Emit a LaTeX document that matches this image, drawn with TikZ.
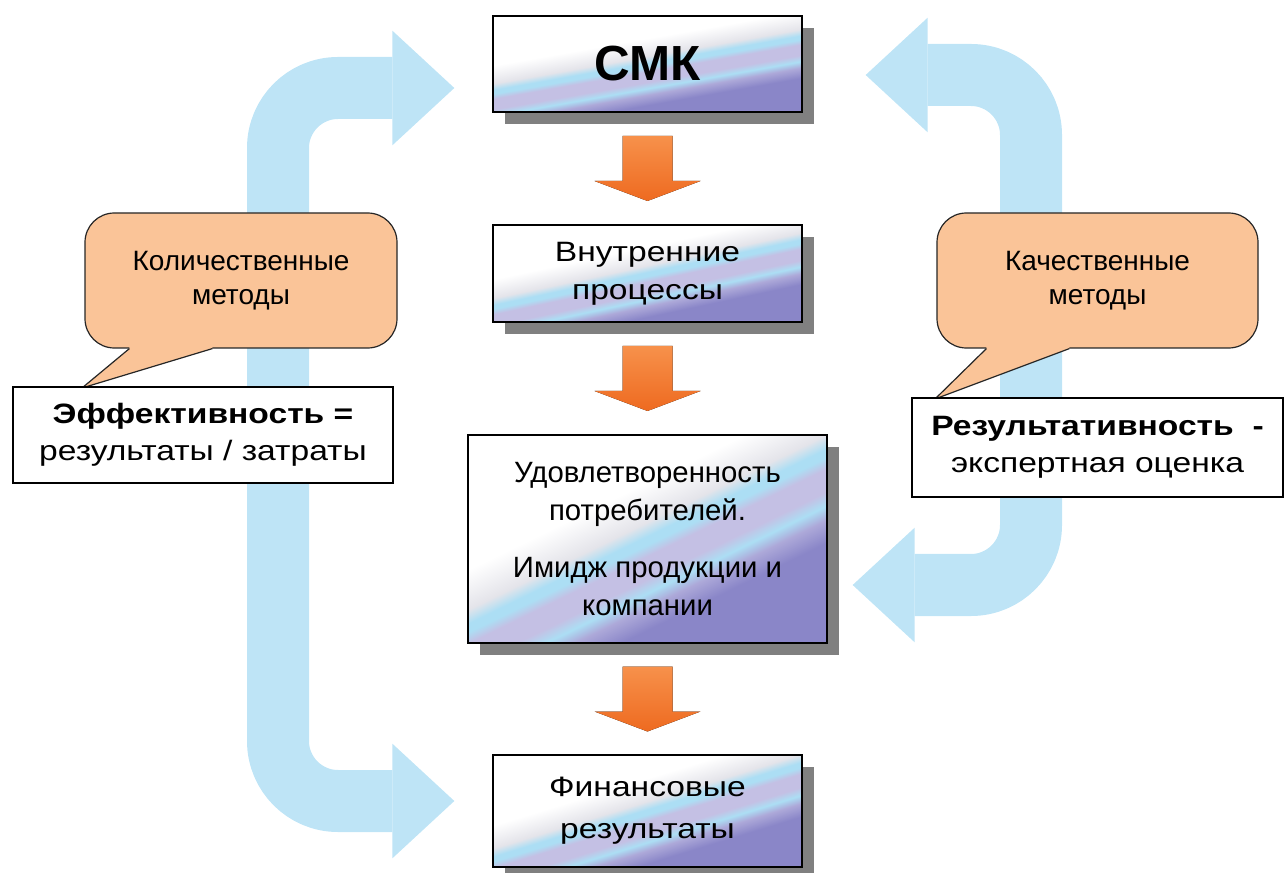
\documentclass[tikz,border=0pt]{standalone}
\usepackage{fontspec}
\setmainfont{Liberation Sans}
\newfontfamily\widefont{Liberation Sans}[FakeStretch=1.2]
\usetikzlibrary{arrows.meta,shadows,calc}
\definecolor{bandgray}{RGB}{228,228,234}
\definecolor{bandcyan}{RGB}{172,222,244}
\definecolor{bandlav}{RGB}{196,192,228}
\definecolor{bandpurple}{RGB}{138,134,200}
\definecolor{shadowgray}{RGB}{128,128,128}
\definecolor{loopblue}{RGB}{190,228,246}
\definecolor{calloutpeach}{RGB}{250,196,152}
\definecolor{flowlight}{RGB}{247,145,75}
\definecolor{flowdark}{RGB}{238,106,32}
\pgfdeclarehorizontalshading{bands}{100bp}{color(0bp)=(white); color(40bp)=(white); color(47bp)=(bandgray); color(49.5bp)=(bandcyan); color(51bp)=(bandcyan); color(53bp)=(bandlav); color(57bp)=(bandlav); color(59.5bp)=(bandcyan); color(62bp)=(bandlav!60!bandpurple); color(66bp)=(bandpurple); color(100bp)=(bandpurple)}

\begin{document}
\begin{tikzpicture}[x=0.75pt, y=-0.75pt,
    every text node part/.style={align=center},
    stepbox/.style={draw=black, line width=1pt, shading=bands, drop shadow={shadow xshift=9pt, shadow yshift=-9pt, fill=shadowgray, opacity=1}, minimum width=231.75pt, inner sep=0pt, font=\widefont\fontsize{21}{28.5}\selectfont},
    callout/.style={draw=black!85, fill=calloutpeach, line width=0.9pt, rounded corners=22pt, minimum height=101.25pt, font=\fontsize{21}{25}\selectfont},
    whitebox/.style={draw=black, fill=white, line width=0.9pt, font=\widefont\fontsize{21}{28}\selectfont},
    feedback/.style={draw=loopblue, line width=46.5pt, rounded corners=45pt, {Triangle[width=86pt, length=46.5pt, line width=0pt]}-{Triangle[width=86pt, length=46.5pt, line width=0pt]}},
    flowarrow/.pic={\fill[top color=flowlight, bottom color=flowdark] (-25,-32.5) -- (25,-32.5) -- (25,12.5) -- (53,12.5) -- (0,32.5) -- (-53,12.5) -- (-25,12.5) -- cycle;}]
    \useasboundingbox (0,0) rectangle (1286,873);

    \node[stepbox, shading angle=-80, minimum height=72pt, font=\bfseries\fontsize{37}{44}\selectfont] (smk) at (647.5,64) {СМК};
    \node[stepbox, shading angle=-78, minimum height=72.75pt] (proc) at (647.5,273.5) {Внутренние\\процессы};
    \node[stepbox, shading angle=-64, minimum width=269.25pt, minimum height=156pt, font=\fontsize{22}{28.5}\selectfont] (sat) at (647.5,539) {Удовлетворенность\\потребителей.\\[14pt]Имидж продукции и\\компании};
    \node[stepbox, shading angle=-73, minimum height=84pt, font=\widefont\fontsize{21}{31.5}\selectfont] (fin) at (647.5,811) {Финансовые\\результаты};

    \draw[feedback] ($(smk.west)+(-38,24)$) -| (278,450) |- ($(fin.west)+(-38,-10)$);
    \draw[feedback] ($(smk.east)+(63,11)$) -| (1031,330) |- ($(sat.east)+(25,46)$);

    \node[callout, minimum width=234pt] (kol) at (241,280.5) {Количественные\\методы};
    \node[callout, minimum width=240.75pt] (kach) at (1097.5,280.5) {Качественные\\методы};
    \coordinate (kolTip) at (82,388);
    \coordinate (kachTip) at (935,399);

    \fill[calloutpeach] ($(kol.south west)+(45,-4)$) -- ($(kol.south west)+(45,0)$) -- (kolTip) -- ($(kol.south west)+(128,0)$) -- ($(kol.south west)+(128,-4)$) -- cycle;
    \draw[black!85, line width=0.9pt] ($(kol.south west)+(45,0)$) -- (kolTip) -- ($(kol.south west)+(128,0)$);
    \fill[calloutpeach] ($(kach.south west)+(50,-4)$) -- ($(kach.south west)+(50,0)$) -- (kachTip) -- ($(kach.south west)+(133,0)$) -- ($(kach.south west)+(133,-4)$) -- cycle;
    \draw[black!85, line width=0.9pt] ($(kach.south west)+(50,0)$) -- (kachTip) -- ($(kach.south west)+(133,0)$);

    \node[whitebox, minimum width=285pt, minimum height=72pt] (eff) at (203,435) {\textbf{Эффективность =}\\результаты / затраты};
    \node[whitebox, minimum width=278.25pt, minimum height=74.25pt] (rez) at (1097.5,447.5) {\textbf{Результативность\ \ -}\\экспертная оценка};

    \pic at ($(smk.south)!0.5!(proc.north)$) {flowarrow};
    \pic at ($(proc.south)!0.5!(sat.north)$) {flowarrow};
    \pic at ($(sat.south)!0.5!(fin.north)$) {flowarrow};

\end{tikzpicture}
\end{document}
